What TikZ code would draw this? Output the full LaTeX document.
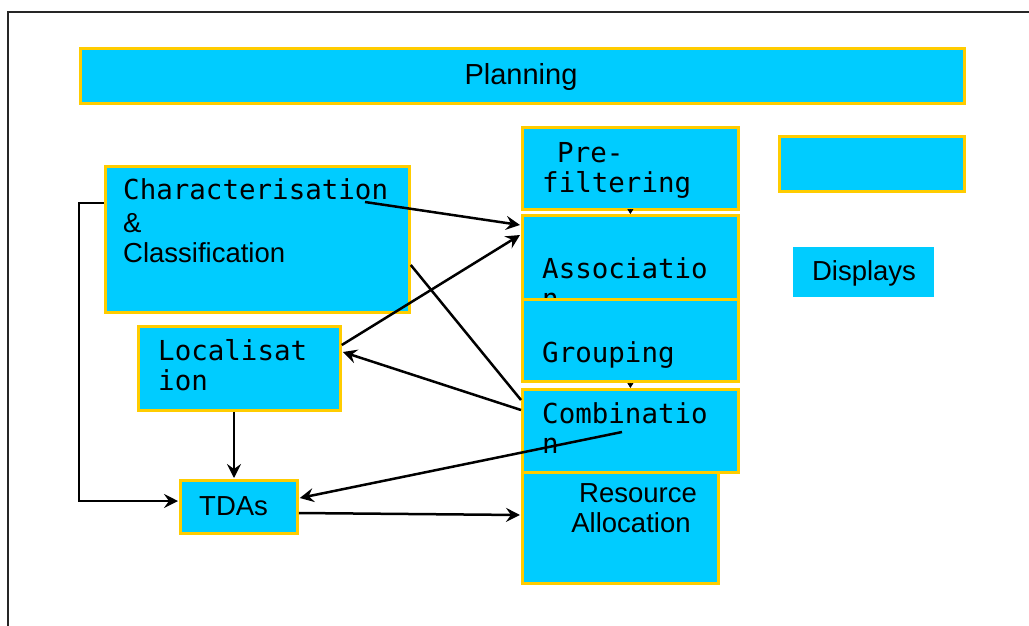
\documentclass[tikz,border=0pt]{standalone}
\usepackage{fontspec}
\setmainfont{Liberation Sans}
\newfontfamily\monofont{DejaVu Sans Mono}
\usetikzlibrary{arrows.meta,calc}
\definecolor{boxfill}{HTML}{00CCFF}
\definecolor{boxline}{HTML}{FFCC00}
\begin{document}
\begin{tikzpicture}[x=1pt,y=-1pt,
  box/.style={draw=boxline, fill=boxfill, line width=2.8pt, inner sep=0pt, anchor=north west},
  plainbox/.style={fill=boxfill, inner sep=0pt, anchor=north west},
  mtext/.style={font=\monofont\fontsize{27.5}{30}\selectfont, anchor=base west, inner sep=0pt},
  stext/.style={font=\fontsize{27.5}{30}\selectfont, anchor=base west, inner sep=0pt},
  ctext/.style={font=\fontsize{27.5}{30}\selectfont, anchor=base, inner sep=0pt},
  conn/.style={line width=2.5pt, -{Stealth[length=14pt,width=14pt,inset=5pt]}},
  plainconn/.style={line width=2.5pt},
  tinyconn/.style={line width=0.6pt, -{Triangle[length=5pt,width=6pt]}}
]
\useasboundingbox (0,0) rectangle (1029,625);
\fill[white] (0,0) rectangle (1029,625);
% frame
\draw[line width=2pt, black!85] (1035,12) -- (8,12) -- (8,632);

% boxes
\node[box, minimum width=884pt, minimum height=55pt] (plan) at (79,47) {};
\node[ctext, font=\fontsize{29}{30}\selectfont] (planT) at (521,84) {Planning};

\node[box, minimum width=216pt, minimum height=82pt] (pre) at (521,126) {};
\node[mtext] (preT1) at (557,162) {Pre-};
\node[mtext] (preT2) at (542,192) {filtering};

\node[box, minimum width=216pt, minimum height=84pt] (assoc) at (521,214) {};
\node[mtext] (assocT1) at (542,278) {Associatio};
\node[mtext] (assocT2) at (542,308) {n};

\node[box, minimum width=216pt, minimum height=82pt] (group) at (521,298) {};
\node[mtext] (groupT) at (542,362) {Grouping};

\node[box, minimum width=196pt, minimum height=111pt] (res) at (521,471) {};
\node[ctext] (resT1) at (638,502) {Resource};
\node[ctext] (resT2) at (631,532) {Allocation};

\node[box, minimum width=216pt, minimum height=83pt] (comb) at (521,388) {};
\node[mtext] (combT1) at (542,423) {Combinatio};
\node[mtext] (combT2) at (542,453) {n};

\node[box, minimum width=185pt, minimum height=55pt] (empty) at (778,135) {};

\node[plainbox, minimum width=141pt, minimum height=50pt] (disp) at (793,247) {};
\node[ctext] (dispT) at (864,280) {Displays};

\node[box, minimum width=304pt, minimum height=146pt] (char) at (104,165) {};
\node[mtext] (charT1) at (123,199) {Characterisation};
\node[stext] (charT2) at (123,232) {\&};
\node[stext] (charT3) at (123,262) {Classification};

\node[box, minimum width=202pt, minimum height=84pt] (loc) at (137,325) {};
\node[mtext] (locT1) at (158,360) {Localisat};
\node[mtext] (locT2) at (158,390) {ion};

\node[box, minimum width=117pt, minimum height=53pt] (tdas) at (179,479) {};
\node[stext] (tdasT) at (199,515) {TDAs};

% connectors
\draw[conn] ($(char.north west)+(0,38)$) -- ++(-25,0) |- ($(tdas.north west)+(-1,22)$);
\draw[conn] ($(char.north west)+(261,37)$) -- ($(assoc.north west)+(-1,11)$);
\draw[conn] ($(loc.north east)+(0,20)$) -- ($(assoc.north west)+(-1,21)$);
\draw[plainconn] ($(char.north east)+(0,100)$) -- ($(comb.north west)+(0,12)$);
\draw[conn] ($(comb.north west)+(0,22)$) -- ($(loc.north east)+(1,27)$);
\draw[conn] ($(comb.north west)+(101,44)$) -- ($(tdas.north east)+(1,19)$);
\draw[conn] ($(loc.south west)+(97,0)$) -- ($(tdas.north west)+(55,-1)$);
\draw[conn] ($(tdas.north east)+(0,34)$) -- ($(res.north west)+(-1,44)$);
\draw[tinyconn] (pre.south) -- (assoc.north);
\draw[tinyconn] (group.south) -- (comb.north);
\end{tikzpicture}
\end{document}
